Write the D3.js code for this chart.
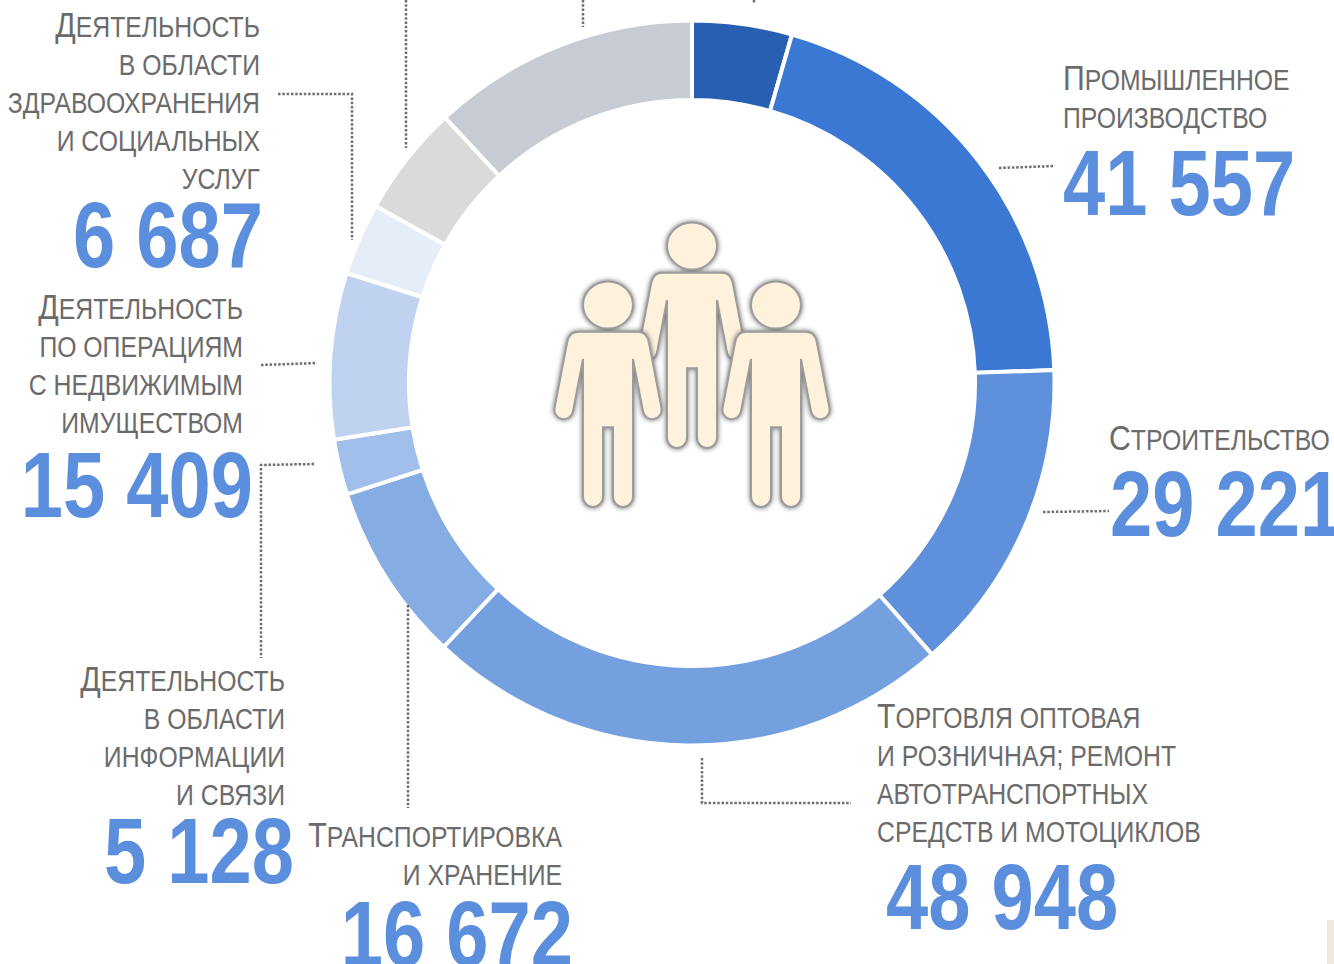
<!DOCTYPE html>
<meta charset="utf-8">
<script src="https://d3js.org/d3.v7.min.js"></script>
<style>
body { margin: 0; background: #fff; }
svg { display: block; }
text { font-family: "Liberation Sans", Arial, sans-serif; }
.lbl { fill: #6b6b6b; font-size: 29.5px; }
.lbl .cap { font-size: 36px; }
.num { fill: #5b8fdd; font-size: 92px; font-weight: bold; }
.leader { fill: none; stroke: #6f6f6f; stroke-width: 2.5; stroke-dasharray: 2.5 1.8; }
</style>
<body>
<div id="canvas"></div>
<script>
// значения по сегментам, по часовой стрелке от 12 часов
var values = [9250, 41557, 29221, 48948, 16672, 5128, 15409, 6687, 10300, 24800];
var colors = ["#285fb3", "#3a78d4", "#5e90dc", "#74a0e0", "#86ade3", "#a0bfea", "#bfd3f0", "#e5edf9", "#dadada", "#c7ccd4"];

// подписи: у трёх верхних сегментов подпись обрезана рамкой
var labels = [
    null,
    ["Промышленное", "производство"],
    ["Строительство"],
    ["Торговля оптовая", "и розничная; ремонт", "автотранспортных", "средств и мотоциклов"],
    ["Транспортировка", "и хранение"],
    ["Деятельность", "в области", "информации", "и связи"],
    ["Деятельность", "по операциям", "с недвижимым", "имуществом"],
    ["Деятельность", "в области", "здравоохранения", "и социальных", "услуг"],
    null,
    null
];

// раскладка подписей отдельно от данных
var labelLayout = [
    null,
    {anchor: "start", x: 1063, y: 90, nx: 1063, ny: 215},
    {anchor: "start", x: 1109, y: 450, nx: 1110, ny: 536},
    {anchor: "start", x: 877, y: 728, nx: 886, ny: 929},
    {anchor: "end", x: 562, y: 847, nx: 573, ny: 966},
    {anchor: "end", x: 285, y: 691, nx: 294, ny: 883},
    {anchor: "end", x: 243, y: 319, nx: 253, ny: 517},
    {anchor: "end", x: 260, y: 37, nx: 263, ny: 267},
    null,
    null
];
var lineStep = 38;
// Arial Narrow нет, сжимаем Liberation Sans
var narrowLabel = 0.84, narrowNum = 0.825;

var leaders = [
    [[754, 0], [754, 3]],
    [[583, 0], [583, 27]],
    [[406, 0], [406, 148]],
    [[278, 94], [352, 94], [352, 240]],
    [[261, 365], [317, 363]],
    [[314, 464], [261, 465], [261, 658]],
    [[408, 605], [408, 808]],
    [[702, 758], [702, 803], [851, 803]],
    [[1043, 512], [1109, 511]],
    [[999, 168], [1055, 166]]
];

var width = 1334, height = 964;
var cx = 692, cy = 383;

var svg = d3.select("#canvas").append("svg")
    .attr("width", width)
    .attr("height", height);

var fmt = d3.formatLocale({decimal: ",", thousands: " ", grouping: [3], currency: ["", ""]}).format(",d");

// кольцо
var pie = d3.pie().sort(null).value(function(d) { return d; });
var arc = d3.arc().innerRadius(283).outerRadius(362.5);

svg.append("g")
    .attr("transform", "translate(" + cx + "," + cy + ")")
    .selectAll("path")
    .data(pie(values))
    .enter()
    .append("path")
    .attr("d", arc)
    .attr("fill", function(d, i) { return colors[i]; })
    .attr("stroke", "#fff")
    .attr("stroke-width", 4);

// выноски
var line = d3.line();
svg.append("g").selectAll("path")
    .data(leaders)
    .enter()
    .append("path")
    .attr("class", "leader")
    .attr("d", line);

function place(x, y, sx) {
    return "translate(" + x + "," + y + ") scale(" + sx + ",1)";
}

// подписи
labels.forEach(function(lines, i) {
    if (!lines) return;
    var p = labelLayout[i];
    lines.forEach(function(t, k) {
        var el = svg.append("text")
            .attr("class", "lbl")
            .attr("text-anchor", p.anchor)
            .attr("transform", place(p.x, p.y + k * lineStep, narrowLabel));
        // капитель: первая буква первой строки крупнее
        if (k == 0) {
            el.append("tspan").attr("class", "cap").text(t.charAt(0));
            el.append("tspan").text(t.slice(1).toUpperCase());
        } else {
            el.text(t.toUpperCase());
        }
    });
    svg.append("text")
        .attr("class", "num")
        .attr("text-anchor", p.anchor)
        .attr("transform", place(p.nx, p.ny, narrowNum))
        .text(fmt(values[i]));
});

// человечки
var defs = svg.append("defs");
var shadow = defs.append("filter").attr("id", "shadow")
    .attr("x", "-20%").attr("y", "-20%").attr("width", "140%").attr("height", "140%");
shadow.append("feDropShadow")
    .attr("dx", 0).attr("dy", 0)
    .attr("stdDeviation", 2.5)
    .attr("flood-color", "#666")
    .attr("flood-opacity", 1);

var bodyPath = "M-30,26.7 L30,26.7 Q39,26.7 41,38 L53.5,103 A9.3,9.3 0 0 1 35,106.5 L25,54 L25,192 " +
    "A10,10 0 0 1 5,192 L5,122.3 L-5,122.3 L-5,192 A10,10 0 0 1 -25,192 L-25,54 L-35,106.5 " +
    "A9.3,9.3 0 0 1 -53.5,103 L-41,38 Q-39,26.7 -30,26.7 Z";

var people = [[692, 246], [608, 305], [776, 305]];
var persons = svg.append("g").selectAll("g")
    .data(people)
    .enter()
    .append("g")
    .attr("transform", function(d) { return "translate(" + d[0] + "," + d[1] + ")"; })
    .attr("filter", "url(#shadow)");
persons.append("ellipse")
    .attr("rx", 25).attr("ry", 23.5)
    .attr("fill", "#fff2dc").attr("stroke", "#9c9c9c").attr("stroke-width", 2);
persons.append("path")
    .attr("d", bodyPath)
    .attr("fill", "#fff2dc").attr("stroke", "#9c9c9c").attr("stroke-width", 2);

// кусочек фона в правом нижнем углу
svg.append("rect")
    .attr("x", 1327).attr("y", 920).attr("width", 7).attr("height", 44)
    .attr("fill", "#f0e8dc");
</script>
</body>
